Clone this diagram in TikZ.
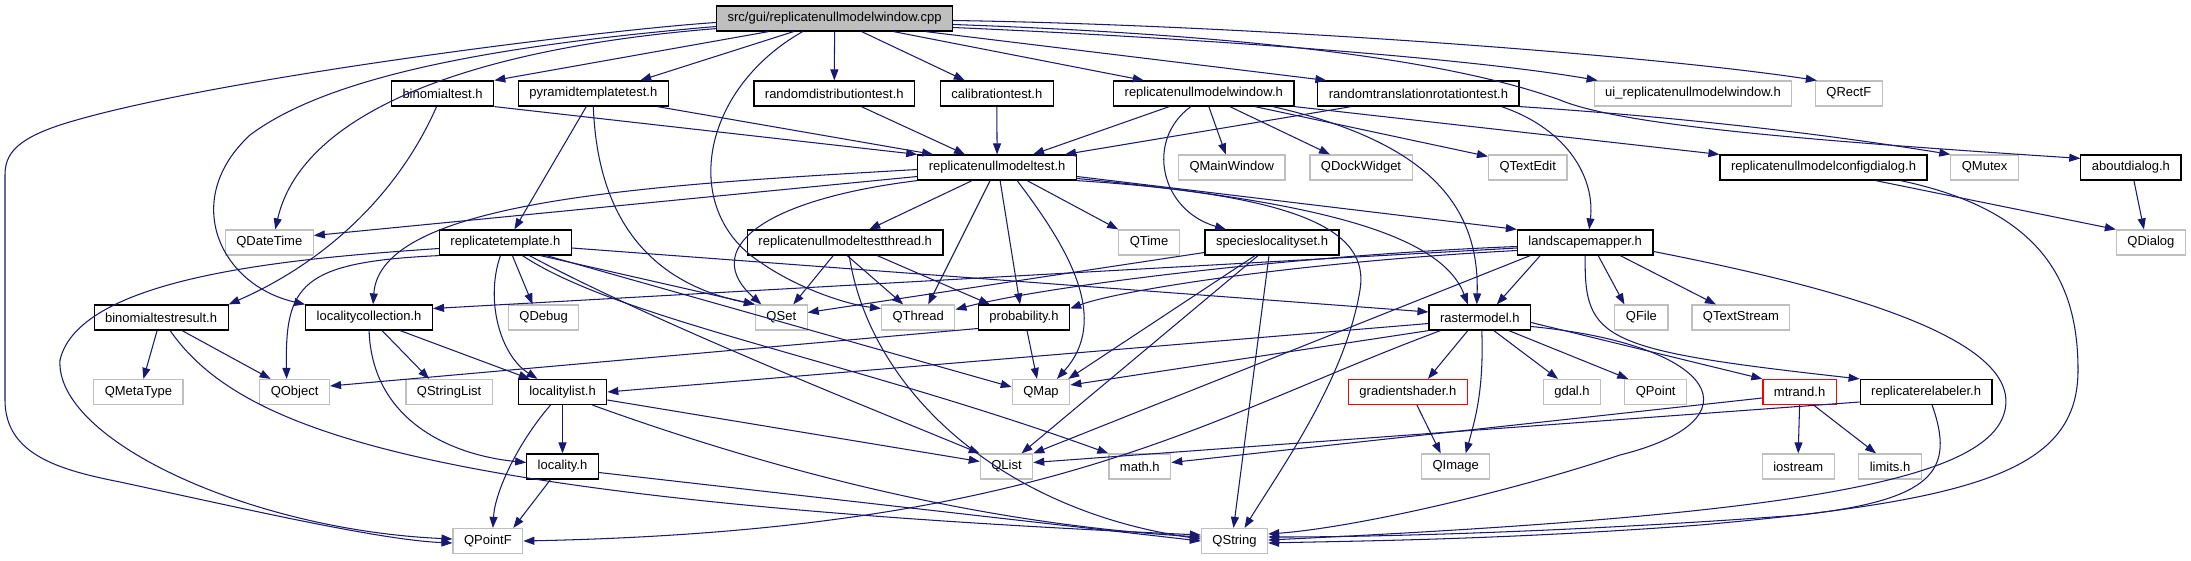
\documentclass[tikz,border=0pt]{standalone}
\usepackage{fontspec}
\setmainfont{Liberation Sans}
\usetikzlibrary{arrows.meta}
\definecolor{edgec}{HTML}{191970}
\definecolor{grayb}{HTML}{BFBFBF}
\definecolor{rootgray}{HTML}{BFBFBF}
\tikzset{
  nd/.style={draw=black, line width=1.2pt, fill=white, minimum height=25pt,
    inner xsep=11pt, inner ysep=0pt, font=\fontsize{13}{15}\selectfont},
  gr/.style={nd, draw=grayb},
  rd/.style={nd, draw=red},
  dep/.style={draw=edgec, line width=1.05pt, -{Triangle[length=11pt,width=8pt]}}
}
\begin{document}
\begin{tikzpicture}[x=1pt,y=-1pt]
\useasboundingbox[fill=white] (0,0) rectangle (2191,560);
% row 0
\node[nd,fill=rootgray] (root) at (834.6,18.5) {src/gui/replicatenullmodelwindow.cpp};
% row 1
\node[nd] (bt) at (442.6,93.5) {binomialtest.h};
\node[nd] (ptt) at (593.3,93.5) {pyramidtemplatetest.h};
\node[nd] (rdt) at (834.3,93.5) {randomdistributiontest.h};
\node[nd] (ct) at (996.8,93.5) {calibrationtest.h};
\node[nd] (rnmw) at (1203.8,93.5) {replicatenullmodelwindow.h};
\node[nd] (rtrt) at (1418.4,93.5) {randomtranslationrotationtest.h};
\node[gr] (ui) at (1693,93.5) {ui\_replicatenullmodelwindow.h};
\node[gr] (qrectf) at (1848.8,93.5) {QRectF};
% row 2
\node[nd] (rnmt) at (997.1,167.5) {replicatenullmodeltest.h};
\node[gr] (qmw) at (1231.8,167.5) {QMainWindow};
\node[gr] (qdw) at (1361,167.5) {QDockWidget};
\node[gr] (qte) at (1527.7,167.5) {QTextEdit};
\node[nd] (rcd) at (1823.5,167.5) {replicatenullmodelconfigdialog.h};
\node[gr] (qmutex) at (1984.6,167.5) {QMutex};
\node[nd] (about) at (2130.9,167.5) {aboutdialog.h};
% row 3
\node[gr] (qdt) at (269.3,242.5) {QDateTime};
\node[nd] (rt) at (505.4,242.5) {replicatetemplate.h};
\node[nd] (rnmtt) at (845.2,242.5) {replicatenullmodeltestthread.h};
\node[gr] (qtime) at (1149,242.5) {QTime};
\node[nd] (sls) at (1272,242.5) {specieslocalityset.h};
\node[nd] (lm) at (1585.2,242.5) {landscapemapper.h};
\node[gr] (qdialog) at (2150.9,242.5) {QDialog};
% row 4
\node[nd] (btr) at (161.1,317.5) {binomialtestresult.h};
\node[nd] (lc) at (369.1,317.5) {localitycollection.h};
\node[gr] (qdebug) at (543.6,317.5) {QDebug};
\node[gr] (qset) at (781.3,317.5) {QSet};
\node[gr] (qthread) at (918.2,317.5) {QThread};
\node[nd] (prob) at (1024,317.5) {probability.h};
\node[nd] (rm) at (1479.8,317.5) {rastermodel.h};
\node[gr] (qfile) at (1641.4,317.5) {QFile};
\node[gr] (qts) at (1740.9,317.5) {QTextStream};
% row 5
\node[gr] (qmeta) at (138.4,392) {QMetaType};
\node[gr] (qobject) at (294.6,392) {QObject};
\node[gr] (qsl) at (449.1,392) {QStringList};
\node[nd] (ll) at (562.5,392) {localitylist.h};
\node[gr] (qmap) at (1041,392) {QMap};
\node[rd] (gs) at (1407.9,392) {gradientshader.h};
\node[gr] (gdal) at (1572,392) {gdal.h};
\node[gr] (qpoint) at (1655.7,392) {QPoint};
\node[rd] (mtrand) at (1799.6,392) {mtrand.h};
\node[nd] (rr) at (1926.1,392) {replicaterelabeler.h};
% row 6
\node[nd] (loc) at (562.5,466.5) {locality.h};
\node[gr] (qlist) at (1006.5,466.5) {QList};
\node[gr] (math) at (1139.8,466.5) {math.h};
\node[gr] (qimage) at (1455.7,466.5) {QImage};
\node[gr] (iostream) at (1798.2,466.5) {iostream};
\node[gr] (limits) at (1890,466.5) {limits.h};
% row 7
\node[gr] (qpointf) at (487.9,541) {QPointF};
\node[gr] (qstring) at (1234.5,541) {QString};

% ---- edges from root
\draw[dep] ([xshift=-66pt]root.south) -- (bt.north east);
\draw[dep] ([xshift=-41pt]root.south) -- ([xshift=47pt]ptt.north);
\draw[dep] (root.south) -- (rdt.north);
\draw[dep] ([xshift=27pt]root.south) -- ([xshift=-32pt]ct.north);
\draw[dep] ([xshift=59pt]root.south) -- ([xshift=-60pt]rnmw.north);
\draw[dep] ([xshift=91pt]root.south) -- ([xshift=-92pt]rtrt.north);
\draw[dep] ([yshift=-9pt]root.east) .. controls (1150,36) and (1450,55) .. ([xshift=4pt]ui.north west);
\draw[dep] ([yshift=-2pt]root.east) .. controls (1250,25) and (1650,55) .. ([xshift=2pt]qrectf.north west);
\draw[dep] ([yshift=-6pt]root.east) .. controls (1250,35) and (1450,60) .. (1560,100) .. controls (1620,125) and (1800,140) .. ([yshift=-4pt]about.north west);
\draw[dep] (rtrt.south east) .. controls (1650,115) and (1800,130) .. (qmutex.north west);
\draw[dep] ([yshift=-4pt]root.west) .. controls (600,30) and (200,80) .. (60,125) .. controls (15,140) and (5,155) .. (5,175) -- (5,400) .. controls (5,455) and (60,470) .. (120,482) .. controls (250,510) and (380,540) .. ([yshift=-2pt]qpointf.west);
\draw[dep] ([yshift=-8pt]root.west) .. controls (500,45) and (330,75) .. (250,135) .. controls (180,200) and (220,285) .. (lc.north west);
\draw[dep] ([yshift=3pt]root.south west) .. controls (450,50) and (300,120) .. ([xshift=6pt]qdt.north);
\draw[dep] ([xshift=-32pt]root.south) .. controls (700,90) and (680,210) .. (760,262) .. controls (800,290) and (850,305) .. ([yshift=-4pt]qthread.north west);
% ---- row 1 sources
\draw[dep] (bt.south east) -- (rnmt.north west);
\draw[dep] ([xshift=-6pt]bt.south) .. controls (400,190) and (330,260) .. (btr.north east);
\draw[dep] ([xshift=64pt]ptt.south) -- ([xshift=-64pt]rnmt.north);
\draw[dep] ([xshift=-7pt]ptt.south) -- ([xshift=9pt]rt.north);
\draw[dep] (ptt.south) .. controls (598,230) and (660,285) .. (qset.north west);
\draw[dep] ([xshift=27pt]rdt.south) -- ([xshift=-32pt]rnmt.north);
\draw[dep] (ct.south) -- (rnmt.north);
\draw[dep] ([xshift=-34.5pt]rnmw.south) -- ([xshift=36pt]rnmt.north);
\draw[dep] ([xshift=-13pt]rnmw.south) .. controls (1145,140) and (1160,210) .. ([xshift=-46pt]sls.north);
\draw[dep] ([xshift=5pt]rnmw.south) -- ([xshift=-6pt]qmw.north);
\draw[dep] ([xshift=26pt]rnmw.south) -- ([xshift=-31pt]qdw.north);
\draw[dep] ([xshift=51pt]rnmw.south) -- ([yshift=-2pt]qte.north west);
\draw[dep] ([xshift=69pt]rnmw.south) .. controls (1420,140) and (1480,200) .. ([xshift=-3pt]rm.north);
\draw[dep] (rnmw.south east) -- (rcd.north west);
\draw[dep] ([xshift=-67pt]rtrt.south) -- ([xshift=-12pt]rnmt.north east);
\draw[dep] ([xshift=83pt]rtrt.south) .. controls (1570,130) and (1595,180) .. ([xshift=4pt]lm.north);
% ---- row 2 sources
\draw[dep] ([xshift=52pt]rcd.south) -- (qdialog.north west);
\draw[dep] ([xshift=77pt]rcd.south) .. controls (2040,210) and (2078,280) .. (2078,370) .. controls (2078,470) and (1980,500) .. (1700,525) .. controls (1500,540) and (1350,541) .. ([yshift=-2pt]qstring.east);
\draw[dep] ([xshift=3pt]about.south) -- ([xshift=-7pt]qdialog.north);
\draw[dep] ([yshift=-9pt]rnmt.west) -- ([yshift=7pt]qdt.east);
\draw[dep] ([yshift=-2pt]rnmt.west) .. controls (650,185) and (380,200) .. ([xshift=4pt]lc.north);
\draw[dep] ([xshift=-25pt]rnmt.south) -- ([xshift=24pt]rnmtt.north);
\draw[dep] (rnmt.south west) .. controls (760,200) and (700,250) .. ([xshift=-20pt]qset.north);
\draw[dep] ([xshift=-7pt]rnmt.south) -- ([xshift=10pt]qthread.north);
\draw[dep] ([xshift=3pt]rnmt.south) -- ([xshift=-4pt]prob.north);
\draw[dep] ([xshift=20pt]rnmt.south) .. controls (1070,250) and (1110,320) .. ([xshift=16pt]qmap.north);
\draw[dep] ([xshift=30pt]rnmt.south) -- (qtime.north west);
\draw[dep] ([yshift=-9pt]rnmt.east) -- (lm.north west);
\draw[dep] ([yshift=-11pt]rnmt.east) .. controls (1300,200) and (1440,230) .. ([xshift=-12pt]rm.north);
\draw[dep] (rnmt.south east) .. controls (1300,195) and (1370,230) .. (1360,290) .. controls (1345,380) and (1280,470) .. ([xshift=10pt]qstring.north);
% ---- row 3 sources
\draw[dep] ([xshift=-12pt]rnmtt.south) -- ([xshift=12pt]qset.north);
\draw[dep] ([xshift=2pt]rnmtt.south) -- ([xshift=-15pt]qthread.north);
\draw[dep] ([xshift=32pt]rnmtt.south) -- ([xshift=12pt]prob.north west);
\draw[dep] ([xshift=4pt]rnmtt.south) .. controls (870,390) and (1000,510) .. ([yshift=2pt]qstring.west);
\draw[dep] ([yshift=-6pt]rt.west) .. controls (300,258) and (80,275) .. (60,360) .. controls (55,440) and (250,530) .. ([yshift=2pt]qpointf.west);
\draw[dep] (rt.south west) .. controls (300,262) and (285,285) .. ([xshift=-8pt]qobject.north);
\draw[dep] ([xshift=-5pt]rt.south) .. controls (485,300) and (500,355) .. ([xshift=-25pt]ll.north);
\draw[dep] ([xshift=7pt]rt.south) -- ([xshift=-11pt]qdebug.north);
\draw[dep] ([xshift=35pt]rt.south) -- (qset.north west);
\draw[dep] ([xshift=41pt]rt.south) -- ([yshift=5pt]qmap.west);
\draw[dep] ([xshift=24pt]rt.south) .. controls (650,320) and (850,400) .. (qlist.north west);
\draw[dep] ([xshift=17pt]rt.south) .. controls (620,320) and (850,360) .. (math.north west);
\draw[dep] ([yshift=-5.5pt]rt.east) -- ([yshift=5.5pt]rm.west);
\draw[dep] ([yshift=-5.5pt]lm.west) -- ([yshift=9pt]lc.east);
\draw[dep] ([yshift=-4pt]lm.west) .. controls (1300,255) and (1050,285) .. ([yshift=8pt]qthread.east);
\draw[dep] ([yshift=-8pt]lm.west) .. controls (1300,262) and (1120,290) .. ([yshift=9pt]prob.east);
\draw[dep] ([xshift=-45pt]lm.south) -- ([xshift=17pt]rm.north);
\draw[dep] ([xshift=-55pt]lm.south) -- (qlist.north east);
\draw[dep] ([xshift=13pt]lm.south) -- ([xshift=-17pt]qfile.north);
\draw[dep] ([xshift=35pt]lm.south) -- ([xshift=-25pt]qts.north);
\draw[dep] (lm.south) .. controls (1584,340) and (1600,350) .. (rr.north west);
\draw[dep] ([yshift=-9pt]lm.east) .. controls (1850,290) and (2020,340) .. (2005,410) .. controls (1990,480) and (1800,515) .. ([yshift=1pt]qstring.east);
\draw[dep] ([yshift=-10pt]sls.west) -- ([yshift=5pt]qset.east);
\draw[dep] ([xshift=-17pt]sls.south) -- ([xshift=-2pt]qmap.north east);
\draw[dep] ([xshift=-14pt]sls.south) -- ([xshift=15pt]qlist.north);
\draw[dep] ([xshift=-3pt]sls.south) -- ([xshift=-1pt]qstring.north);
% ---- row 4 sources
\draw[dep] ([xshift=13pt]lc.south) -- ([xshift=-20pt]qsl.north);
\draw[dep] ([xshift=31pt]lc.south) -- ([xshift=12pt]ll.north west);
\draw[dep] (lc.south) .. controls (372,420) and (450,455) .. ([yshift=4pt]loc.west);
\draw[dep] ([xshift=-4pt]btr.south) -- ([xshift=5pt]qmeta.north);
\draw[dep] ([xshift=21pt]btr.south) -- ([xshift=-24pt]qobject.north);
\draw[dep] ([xshift=9pt]btr.south) .. controls (240,430) and (420,500) .. ([yshift=6pt]qstring.west);
\draw[dep] ([yshift=-11pt]prob.west) -- ([yshift=6pt]qobject.east);
\draw[dep] ([xshift=3pt]prob.south) -- ([xshift=-4pt]qmap.north);
\draw[dep] ([yshift=-6pt]rm.west) -- (ll.east);
\draw[dep] (rm.south west) -- ([yshift=7pt]qmap.east);
\draw[dep] ([xshift=12pt]rm.south west) .. controls (1200,420) and (1050,530) .. (qpointf.east);
\draw[dep] ([xshift=-12pt]rm.south) -- ([xshift=20pt]gs.north);
\draw[dep] ([xshift=2pt]rm.south) .. controls (1484,390) and (1475,420) .. ([xshift=10pt]qimage.north);
\draw[dep] ([xshift=14pt]rm.south) -- ([xshift=-14pt]gdal.north);
\draw[dep] ([xshift=29pt]rm.south) -- ([xshift=4pt]qpoint.north west);
\draw[dep] ([yshift=-5pt]rm.east) -- (mtrand.north west);
\draw[dep] ([yshift=-9pt]rm.east) .. controls (1720,345) and (1760,420) .. (1620,455) .. controls (1500,495) and (1350,528) .. ([yshift=7pt]qstring.east);
% ---- row 5 sources
\draw[dep] ([xshift=9pt]gs.south) -- ([xshift=-15pt]qimage.north);
\draw[dep] ([yshift=-10pt]rr.west) -- ([yshift=4pt]qlist.east);
\draw[dep] ([xshift=6pt]rr.south) .. controls (1955,470) and (1935,500) .. (1800,515) .. controls (1600,530) and (1400,537) .. ([yshift=4pt]qstring.east);
\draw[dep] (mtrand.south) -- (iostream.north);
\draw[dep] ([xshift=14pt]mtrand.south) -- ([xshift=-14pt]limits.north);
\draw[dep] ([yshift=-6pt]mtrand.west) -- ([yshift=4pt]math.east);
\draw[dep] (ll.south) -- (loc.north);
\draw[dep] ([xshift=-12pt]ll.south) .. controls (520,440) and (495,490) .. ([xshift=5pt]qpointf.north);
\draw[dep] ([yshift=-8pt]ll.east) -- ([yshift=5pt]qlist.west);
\draw[dep] ([xshift=30pt]ll.south) .. controls (800,480) and (1000,525) .. ([yshift=4pt]qstring.west);
% ---- row 6 sources
\draw[dep] ([xshift=-12pt]loc.south) -- ([xshift=-10pt]qpointf.north east);
\draw[dep] ([yshift=-6pt]loc.east) -- (qstring.west);
\end{tikzpicture}
\end{document}
